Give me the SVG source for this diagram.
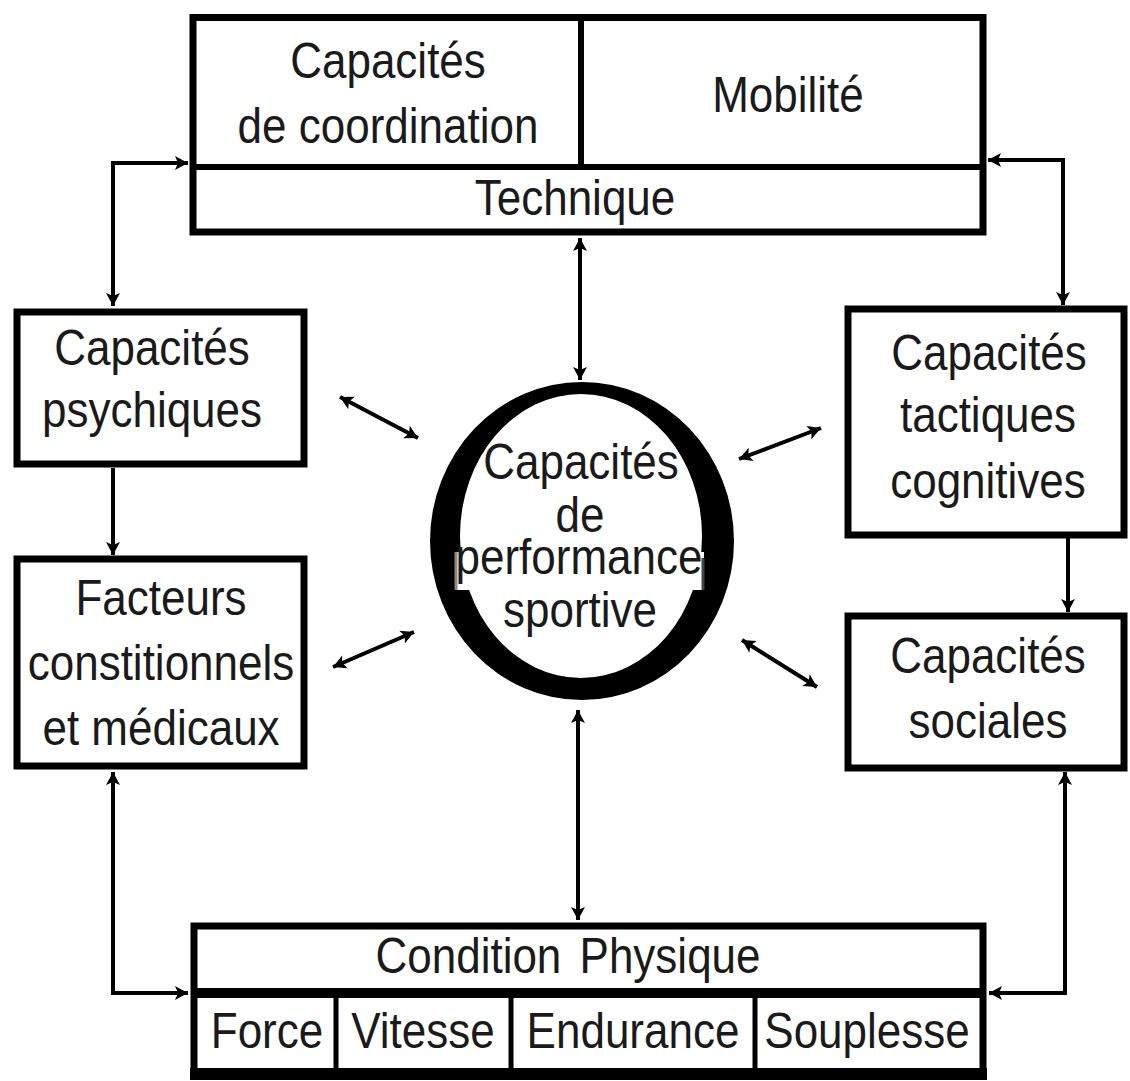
<svg xmlns="http://www.w3.org/2000/svg" width="1130" height="1081" viewBox="0 0 1130 1081">
<defs>
<style>
.box{fill:#fff;stroke:#000;stroke-width:7}
.ln{stroke:#000;fill:none}
.t{font-family:"Liberation Sans",Arial,sans-serif;font-size:44px;fill:#1a1a1a;text-anchor:middle}
.c{stroke:#000;stroke-width:4;fill:none;marker-end:url(#ah)}
.d{marker-start:url(#ah)}
</style>
<marker id="ah" viewBox="-1 -8 16 16" refX="13" refY="0" markerWidth="16" markerHeight="16" markerUnits="userSpaceOnUse" orient="auto-start-reverse">
<path d="M0,-7 L13,0 L0,7 L3,0 Z" fill="#000"/>
</marker>
</defs>
<rect width="1130" height="1081" fill="#fff"/>

<g id="connectors">
<path class="c d" d="M188,163 H113 V306"/>
<path class="c d" d="M988,160 H1063 V305"/>
<path class="c" d="M113,468 V555"/>
<path class="c" d="M1068,538 V612"/>
<path class="c d" d="M113,772 V993 H188"/>
<path class="c d" d="M1065,772 V993 H989"/>
<path class="c d" d="M580,238 V380"/>
<path class="c d" d="M578,710 V920"/>
<path class="c d" d="M340,397 L418,438"/>
<path class="c d" d="M333,667 L414,632"/>
<path class="c d" d="M739,459 L821,428"/>
<path class="c d" d="M742,640 L817,687"/>
</g>

<g id="technique">
<rect class="box" x="193" y="17.5" width="790" height="214.5"/>
<line class="ln" x1="193" y1="167" x2="983" y2="167" stroke-width="6"/>
<line class="ln" x1="581" y1="17" x2="581" y2="167" stroke-width="6"/>
<text class="t" transform="translate(388,78) scale(1,1.13)">Capacités</text>
<text class="t" transform="translate(388,143) scale(1,1.13)">de coordination</text>
<text class="t" transform="translate(788,112) scale(1,1.13)">Mobilité</text>
<text class="t" transform="translate(575,215) scale(1,1.13)">Technique</text>
</g>

<g id="psychiques">
<rect class="box" x="17" y="312" width="287" height="152"/>
<text class="t" transform="translate(152,365) scale(1,1.13)">Capacités</text>
<text class="t" transform="translate(152,427) scale(1,1.13)">psychiques</text>
</g>

<g id="facteurs">
<rect class="box" x="17" y="559" width="287" height="207"/>
<text class="t" transform="translate(161,615) scale(1,1.13)">Facteurs</text>
<text class="t" transform="translate(161,680) scale(1,1.13)">constitionnels</text>
<text class="t" transform="translate(161,745) scale(1,1.13)">et médicaux</text>
</g>

<g id="tactiques">
<rect class="box" x="848" y="309" width="276" height="226"/>
<text class="t" transform="translate(989,370) scale(1,1.13)">Capacités</text>
<text class="t" transform="translate(988,432) scale(1,1.13)">tactiques</text>
<text class="t" transform="translate(988,498) scale(1,1.13)">cognitives</text>
</g>

<g id="sociales">
<rect class="box" x="848" y="616" width="276" height="152"/>
<text class="t" transform="translate(988,673) scale(1,1.13)">Capacités</text>
<text class="t" transform="translate(988,738) scale(1,1.13)">sociales</text>
</g>

<g id="performance">
<path fill="#000" fill-rule="evenodd" d="M430,541 a152,159 0 1,0 304,0 a152,159 0 1,0 -304,0 Z M460,536 a121,142 0 1,0 242,0 a121,142 0 1,0 -242,0 Z"/>
<rect x="456" y="552" width="248" height="38" fill="#fff"/>
<line x1="456" y1="552" x2="456" y2="590" stroke="#888" stroke-width="3"/>
<line x1="703" y1="558" x2="703" y2="590" stroke="#444" stroke-width="3"/>
<text class="t" transform="translate(581,479) scale(1,1.13)">Capacités</text>
<text class="t" transform="translate(580,532) scale(1,1.13)">de</text>
<text class="t" transform="translate(579,574) scale(1,1.13)">performance</text>
<text class="t" transform="translate(580,627) scale(1,1.13)">sportive</text>
</g>

<g id="condition">
<rect class="box" x="194" y="926" width="789" height="147" stroke-width="8"/>
<line class="ln" x1="190" y1="1074" x2="987" y2="1074" stroke-width="12"/>
<line class="ln" x1="194" y1="993" x2="983" y2="993" stroke-width="10"/>
<line class="ln" x1="336" y1="993" x2="336" y2="1073" stroke-width="5"/>
<line class="ln" x1="511" y1="993" x2="511" y2="1073" stroke-width="5"/>
<line class="ln" x1="755" y1="993" x2="755" y2="1073" stroke-width="5"/>
<text class="t" word-spacing="6" transform="translate(568,973) scale(1,1.13)">Condition Physique</text>
<text class="t" transform="translate(267,1048) scale(1,1.13)">Force</text>
<text class="t" transform="translate(423,1048) scale(1,1.13)">Vitesse</text>
<text class="t" transform="translate(633,1048) scale(1,1.13)">Endurance</text>
<text class="t" transform="translate(867,1048) scale(1,1.13)">Souplesse</text>
</g>
</svg>
